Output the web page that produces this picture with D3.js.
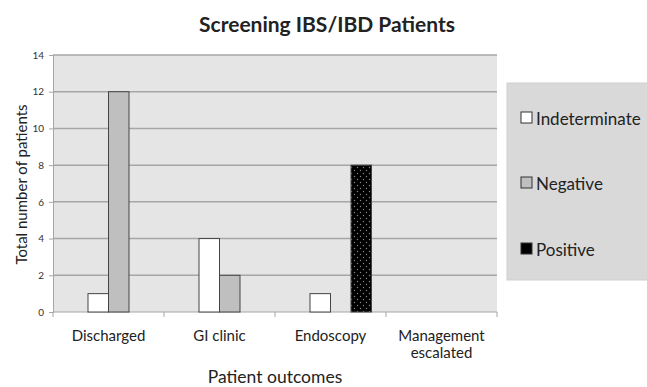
<!DOCTYPE html>
<html>
<head>
<meta charset="utf-8">
<script src="https://cdn.jsdelivr.net/npm/d3@7"></script>
<style>
  body { margin: 0; background: #fff; }
  svg text { font-family: Lato, "Open Sans", sans-serif; fill: #222; }
</style>
</head>
<body>
<svg width="647" height="387"></svg>
<script>
const categories = ['Discharged', 'GI clinic', 'Endoscopy', 'Management escalated'];
const seriesNames = ['Indeterminate', 'Negative', 'Positive'];
const indeterminate = [1, 4, 1, 0];
const negative = [12, 2, 0, 0];
const positive = [0, 0, 8, 0];
const yTicks = [0, 2, 4, 6, 8, 10, 12, 14];

const svg = d3.select('svg');
const margin = { left: 53, right: 150, top: 55, bottom: 75 };
const plotW = 497 - margin.left;
const plotH = 312 - margin.top;

const defs = svg.append('defs');
const pat = defs.append('pattern')
    .attr('id', 'dots')
    .attr('patternUnits', 'userSpaceOnUse')
    .attr('width', 6).attr('height', 6);
pat.append('rect').attr('width', 6).attr('height', 6).attr('fill', '#000');
pat.append('circle').attr('cx', 1.5).attr('cy', 1.5).attr('r', 0.7).attr('fill', '#888');
pat.append('circle').attr('cx', 4.5).attr('cy', 4.5).attr('r', 0.7).attr('fill', '#888');

const fills = ['#ffffff', '#bfbfbf', 'url(#dots)'];
const values = [indeterminate, negative, positive];

const x = d3.scaleBand().domain(categories).range([0, plotW]);
const y = d3.scaleLinear().domain([0, 14]).range([plotH, 0]);
const barW = 20.5;

const g = svg.append('g').attr('transform', `translate(${margin.left},${margin.top})`);

g.append('rect')
    .attr('width', plotW).attr('height', plotH)
    .attr('fill', '#e5e5e5');

g.selectAll('line.grid')
    .data(yTicks.slice(1))
    .enter().append('line')
    .attr('class', 'grid')
    .attr('x1', 0).attr('x2', plotW)
    .attr('y1', d => y(d)).attr('y2', d => y(d))
    .attr('stroke', '#a6a6a6').attr('stroke-width', 1.5);

// y axis
const yAxis = g.append('g').call(d3.axisLeft(y).tickValues(yTicks).tickSize(4).tickPadding(5));
yAxis.select('.domain').attr('stroke', '#a6a6a6');
yAxis.selectAll('.tick line').attr('stroke', '#a6a6a6');
yAxis.selectAll('.tick text').style('font-size', '10px').style('fill', '#333');

// x axis
const xAxisG = g.append('g').attr('transform', `translate(0,${plotH})`);
xAxisG.append('line').attr('x1', 0).attr('x2', plotW).attr('stroke', '#a6a6a6');
xAxisG.selectAll('line.tk')
    .data(d3.range(categories.length + 1))
    .enter().append('line')
    .attr('class', 'tk')
    .attr('x1', i => i * x.bandwidth()).attr('x2', i => i * x.bandwidth())
    .attr('y1', 0).attr('y2', 5)
    .attr('stroke', '#a6a6a6');

const labels = [['Discharged'], ['GI clinic'], ['Endoscopy'], ['Management', 'escalated']];
xAxisG.selectAll('text.cat')
    .data(categories)
    .enter().append('text')
    .attr('class', 'cat')
    .attr('text-anchor', 'middle')
    .attr('x', d => x(d) + x.bandwidth() / 2)
    .attr('y', 29)
    .style('font-size', '15px')
    .each(function (d, i) {
        labels[i].forEach((t, j) => {
            d3.select(this).append('tspan')
                .attr('x', x(d) + x.bandwidth() / 2)
                .attr('dy', j === 0 ? 0 : 17)
                .text(t);
        });
    });

// bars (group sits right of centre, as in the source chart)
seriesNames.forEach((s, si) => {
    g.selectAll(`rect.s${si}`)
        .data(categories.map((c, ci) => ({ c, v: values[si][ci] })).filter(d => d.v > 0))
        .enter().append('rect')
        .attr('class', `s${si}`)
        .attr('x', d => x(d.c) + x.bandwidth() / 2 + (si - 1) * barW)
        .attr('y', d => y(d.v))
        .attr('width', barW)
        .attr('height', d => plotH - y(d.v))
        .attr('fill', fills[si])
        .attr('stroke', '#444').attr('stroke-width', 1);
});

// titles
svg.append('text')
    .attr('x', 327).attr('y', 32)
    .attr('text-anchor', 'middle')
    .style('font-size', '21px').style('font-weight', 'bold')
    .text('Screening IBS/IBD Patients');

svg.append('text')
    .attr('x', 275).attr('y', 383)
    .attr('text-anchor', 'middle')
    .style('font-size', '17.5px')
    .text('Patient outcomes');

svg.append('text')
    .attr('transform', `translate(27,${margin.top + plotH / 2 + 1}) rotate(-90)`)
    .attr('text-anchor', 'middle')
    .style('font-size', '15px')
    .text('Total number of patients');

// legend
const lg = svg.append('g');
lg.append('rect')
    .attr('x', 507).attr('y', 83).attr('width', 145).attr('height', 197)
    .attr('fill', '#d9d9d9').attr('stroke', '#cfcfcf');
const lgFills = ['#ffffff', '#bfbfbf', '#000000'];
const lgY = [125, 190, 256];
seriesNames.forEach((s, i) => {
    lg.append('rect')
        .attr('x', 521).attr('y', lgY[i] - 13)
        .attr('width', 11).attr('height', 11)
        .attr('fill', lgFills[i]).attr('stroke', '#333');
    lg.append('text')
        .attr('x', 536).attr('y', lgY[i])
        .style('font-size', '17px')
        .text(s);
});
</script>
</body>
</html>
